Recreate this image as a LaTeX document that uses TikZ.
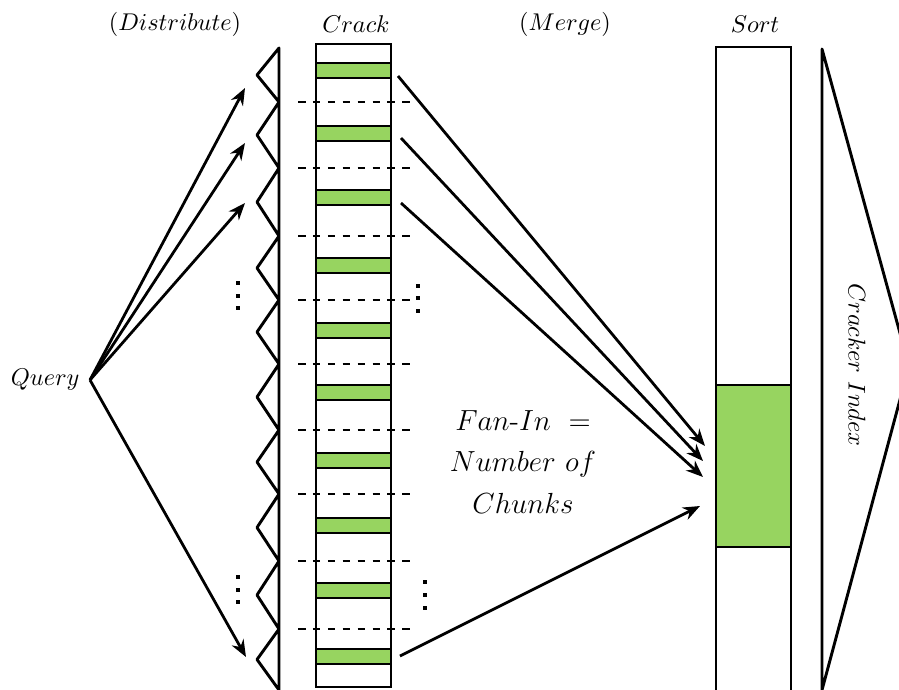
\documentclass[tikz,border=0pt]{standalone}
\usetikzlibrary{arrows.meta}
\definecolor{chunkgreen}{RGB}{151,212,96}
\newcommand\px{0.145mm}
\begin{document}
\begin{tikzpicture}[x=\px, y=-\px,
  outline/.style={draw, line width=1.2pt},
  colbox/.style={outline, rectangle, inner sep=0pt, minimum width=75*\px},
  chunk/.style={colbox, fill=chunkgreen, minimum height=15*\px},
  cut/.style={dash pattern=on 3.1pt off 3.05pt, line width=1.2pt},
  flow/.style={line width=1.15pt, -{Stealth[length=7pt,width=5.5pt]}},
  dotmark/.style={fill, inner sep=0pt, minimum size=3.5*\px, rectangle},
  heading/.style={inner sep=0pt}]
\useasboundingbox (0,0) rectangle (899,689);
\begin{scope}
\clip (0,0) rectangle (899,689);

% column headings
\node[heading] (hdist)  at (175,24) {$(Distribute)$};
\node[heading] (hcrack) at (356,24) {$Crack$};
\node[heading] (hmerge) at (565,24) {$(Merge)$};
\node[heading] (hsort)  at (755,24) {$Sort$};

% query source
\node[anchor=east, inner sep=0pt] (query) at (80,380) {$Query$};
\coordinate (src) at (90,380);

% partition tips of the distribution comb
\draw[outline, line join=round] (279,48)
  \foreach \a/\b in {75/102,135/168,202/236,268/300,332/364,397/430,462/494,527.5/561,595/629,659.5/690}
  { -- (257,\a) -- (279,\b) } -- cycle;

% cracked column with its chunks
\node[colbox, minimum height=643*\px] (crack) at (353.5,365.5) {};
\foreach \i/\y in {1/70.5,2/133.5,3/197.5,4/265.5,5/330.5,6/392.5,7/460.5,8/525.5,9/590.5,10/656.5}
  \node[chunk] (g\i) at (353.5,\y) {};
\foreach \y in {102,168,236,300,364,430,494,561,629}
  \draw[cut] (298,\y) -- (412,\y);

% elision marks
\foreach \x/\y in {238/283,238/296,238/308,418/286,418/298,418/311,
                   238/577,238/590,238/602,425/582,425/595,425/608}
  \node[dotmark] at (\x,\y) {};

% distribute arrows
\coordinate (d1) at (245,88);
\coordinate (d2) at (245,143);
\coordinate (d3) at (245,203);
\coordinate (d4) at (246,657);
\foreach \t in {d1,d2,d3,d4}
  \draw[flow] (src) -- (\t);

% sorted column
\node[colbox, minimum height=673*\px] (sort) at (753.5,383.5) {};
\node[colbox, fill=chunkgreen, minimum height=162*\px] (sorted) at (753.5,466) {};

% merge arrows
\coordinate (m1) at (398,76);
\coordinate (m2) at (401,138);
\coordinate (m3) at (401,203);
\coordinate (m4) at (400,656);
\coordinate (e1) at (705,446);
\coordinate (e2) at (703,461);
\coordinate (e3) at (703,477);
\coordinate (e4) at (700,506);
\foreach \s/\t in {m1/e1,m2/e2,m3/e3,m4/e4}
  \draw[flow] (\s) -- (\t);

\node[align=center, font=\large, inner sep=0pt] (fanin) at (523,462)
  {$Fan\mbox{-}In\ =$\\[3pt]$Number\ of$\\[3pt]$Chunks$};

% cracker index
\coordinate (i1) at (822,49);
\coordinate (i2) at (909,366);
\coordinate (i3) at (822,690);
\draw[outline, line join=round] (i1) -- (i2) -- (i3) -- cycle;
\node[rotate=-90, inner sep=0pt] (idx) at (857,365) {$Cracker\ Index$};
\end{scope}
\end{tikzpicture}
\end{document}
